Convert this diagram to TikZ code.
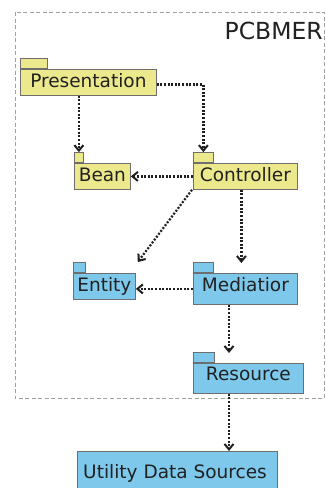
\documentclass[tikz,border=0pt]{standalone}
\usepackage{fontspec}
\setmainfont{DejaVu Sans}
\usetikzlibrary{arrows.meta}
\definecolor{pkgyel}{RGB}{236,233,140}
\definecolor{pkgblue}{RGB}{125,200,235}
\definecolor{pkgline}{RGB}{110,110,110}
\definecolor{frameline}{RGB}{160,160,160}
\tikzset{
  pkgbody/.style={draw=pkgline, line width=0.8pt, inner xsep=0pt, inner ysep=4.5pt,
    text height=13.5pt, anchor=north west, text=black!87,
    font=\fontsize{18.5}{20}\selectfont},
  pkgtab/.style={draw=pkgline, line width=0.8pt, inner sep=0pt, minimum height=10pt,
    anchor=south west},
  dep/.style={line width=2.2pt, black!88, dash pattern=on 2pt off 1.6pt,
    -{Straight Barb[length=5.5pt,width=9pt,line width=2pt]}},
  frame/.style={draw=frameline, line width=0.6pt, dash pattern=on 4pt off 2.5pt}
}
\begin{document}
\begin{tikzpicture}[x=1pt,y=-1pt]
\useasboundingbox[fill=white] (0,0) rectangle (326,488);
\begin{scope}
\clip (0,0) rectangle (326,488);
\draw[frame] (15,12) rectangle (324,398);
\node[anchor=base east, inner sep=0pt, font=\fontsize{23.5}{26}\selectfont, text=black!87] (title) at (323,39) {PCBMER};
% packages
\node[pkgbody, fill=pkgyel, minimum width=136pt, text depth=3.5pt] (pres) at (20,69) {Presentation};
\node[pkgtab, fill=pkgyel, minimum width=27pt] (presTab) at (pres.north west) {};
\node[pkgbody, fill=pkgyel, minimum width=56pt, text depth=3.5pt] (bean) at (74,163) {Bean};
\node[pkgtab, fill=pkgyel, minimum width=9pt] (beanTab) at (bean.north west) {};
\node[pkgbody, fill=pkgyel, minimum width=104pt, text depth=3.5pt] (ctrl) at (193,163) {Controller};
\node[pkgtab, fill=pkgyel, minimum width=20pt] (ctrlTab) at (ctrl.north west) {};
\node[pkgbody, fill=pkgblue, minimum width=62pt, text depth=3.5pt] (ent) at (73,273) {Entity};
\node[pkgtab, fill=pkgblue, minimum width=12pt] (entTab) at (ent.north west) {};
\node[pkgbody, fill=pkgblue, minimum width=104pt, text depth=8.5pt] (med) at (193,273) {Mediatior};
\node[pkgtab, fill=pkgblue, minimum width=20pt] (medTab) at (med.north west) {};
\node[pkgbody, fill=pkgblue, minimum width=110pt, text depth=8pt, text height=13pt] (res) at (193,363) {Resource};
\node[pkgtab, fill=pkgblue, minimum width=21pt] (resTab) at (res.north west) {};
\node[draw=pkgline, line width=0.8pt, fill=pkgblue, anchor=north west, inner sep=0pt,
  minimum width=200pt, minimum height=60pt] (util) at (77,451) {};
\node[anchor=base, inner sep=0pt, text=black!87, font=\fontsize{18.5}{20}\selectfont]
  (utilText) at (175,478) {Utility Data Sources};
% dependencies
\draw[dep] (pres.south -| beanTab.center) -- (beanTab.north);
\draw[dep] ([yshift=-2pt]pres.east) -| (ctrlTab.north);
\draw[dep] (ctrl.west) -- (ctrl.west -| bean.east);
\draw[dep] ([xshift=-1pt]ctrl.south west) -- ([shift={(2,-11)}]ent.north east);
\coordinate (medIn) at ([xshift=-4pt,yshift=10pt]med.north);
\draw[dep] (ctrl.south -| medIn) -- (medIn);
\draw[dep] (med.west) -- (med.west -| ent.east);
\coordinate (resIn) at ([yshift=10pt]res.north -| 229,0);
\draw[dep] (med.south -| resIn) -- (resIn);
\draw[dep] (res.south -| resIn) -- (util.north -| resIn);
\end{scope}
\end{tikzpicture}
\end{document}
